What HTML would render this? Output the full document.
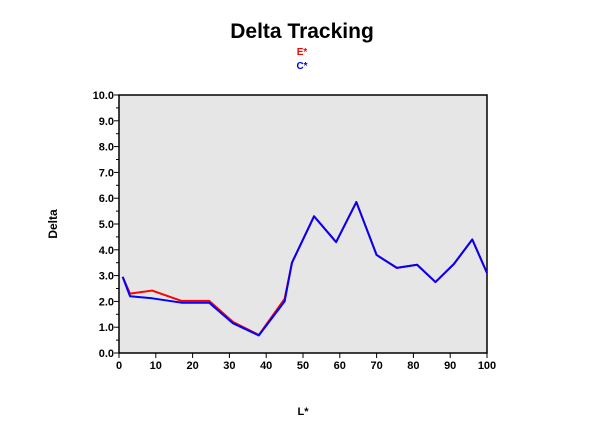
<!DOCTYPE html>
<html><head><meta charset="utf-8"><style>
body{margin:0;background:#fff;width:600px;height:421px;overflow:hidden;font-family:"Liberation Sans",Arial,sans-serif}
</style></head><body>
<svg id="c" width="600" height="421" xmlns="http://www.w3.org/2000/svg">
<text x="302" y="38" text-anchor="middle" font-size="21" font-weight="bold" fill="#000">Delta Tracking</text>
<text x="302" y="55" text-anchor="middle" font-size="10" font-weight="bold" fill="#ff0000">E*</text>
<text x="302" y="69" text-anchor="middle" font-size="10" font-weight="bold" fill="#0000ff">C*</text>
<text x="57" y="224" text-anchor="middle" font-size="12" font-weight="bold" transform="rotate(-90 57 224)">Delta</text>
<text x="303" y="415" text-anchor="middle" font-size="11" font-weight="bold">L*</text>
<rect x="119" y="95" width="368" height="258" fill="#e6e6e6" stroke="#000" stroke-width="1.5"/>
<g id="axes"></g>
<g id="series"></g>
</svg>
<script>
const xTicks=[0,10,20,30,40,50,60,70,80,90,100];
const yTicks=[0,1,2,3,4,5,6,7,8,9,10];
const eX=[1,3,9,17,24.5,31,38,45,47,53,59,64.5,70,75.5,81,86,91,96,100];
const eY=[2.95,2.3,2.42,2.02,2.02,1.2,0.7,2.1,3.5,5.3,4.3,5.85,3.8,3.3,3.42,2.75,3.45,4.4,3.1];
const cX=[1,3,9,17,24.5,31,38,45,47,53,59,64.5,70,75.5,81,86,91,96,100];
const cY=[2.95,2.2,2.12,1.95,1.95,1.15,0.68,2.0,3.5,5.3,4.3,5.85,3.8,3.3,3.42,2.75,3.45,4.4,3.1];
const X0=119,X1=487,Y0=353,Y1=95;
function sx(v){return X0+(v/100)*(X1-X0);}
function sy(v){return Y0-(v/10)*(Y0-Y1);}
const NS="http://www.w3.org/2000/svg";
const axes=document.getElementById('axes'),ser=document.getElementById('series');
function mk(t,a,p){const e=document.createElementNS(NS,t);for(const k in a)e.setAttribute(k,a[k]);p.appendChild(e);return e;}
yTicks.forEach(v=>{
  const l=mk('line',{x1:X0-5,x2:X0,y1:sy(v),y2:sy(v),stroke:'#000'},axes);
  
  
  if(v<10){const m=mk('line',{x1:X0-3,x2:X0,y1:sy(v+0.5),y2:sy(v+0.5),stroke:'#000'},axes);
  
  }
  const t=mk('text',{x:X0-5,y:sy(v)+4,'text-anchor':'end','font-size':'11','font-weight':'bold'},axes);
  t.textContent=v.toFixed(1);
  
  
});
xTicks.forEach(v=>{
  const l=mk('line',{x1:sx(v),x2:sx(v),y1:Y0,y2:Y0+5,stroke:'#000'},axes);
  
  
  const t=mk('text',{x:sx(v),y:Y0+16,'text-anchor':'middle','font-size':'11','font-weight':'bold'},axes);
  t.textContent=v;
  
  
});
function line(xs,ys,col,name){
  const p=mk('polyline',{points:xs.map((x,i)=>sx(x)+','+sy(ys[i])).join(' '),fill:'none',stroke:col,'stroke-width':'2','stroke-linejoin':'round'},ser);
  
  
}
line(eX,eY,'#ff0000','series-e-line');
line(cX,cY,'#0000ff','series-c-line');
</script>
</body></html>
